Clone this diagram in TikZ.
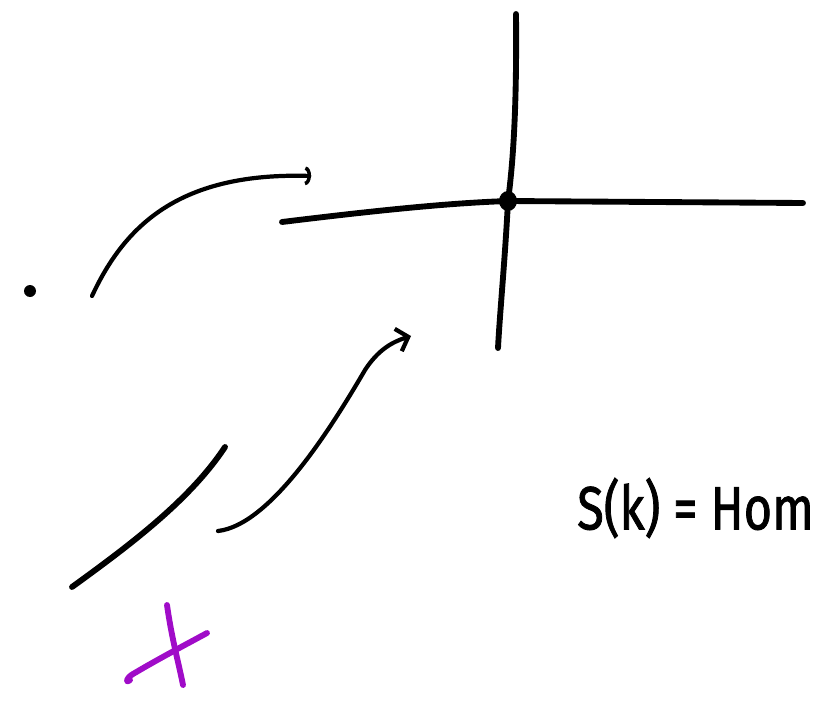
\documentclass[tikz,border=0pt]{standalone}
\usepackage{fontspec}
\setmainfont{Fira Sans}
\newfontfamily\handfont[FakeBold=1.5]{Fira Sans}
\usetikzlibrary{arrows.meta}
\definecolor{penpurple}{RGB}{160,12,200}
\tikzset{
  pen/.style={line width=5pt, line cap=round, line join=round},
  thinpen/.style={line width=3.6pt, line cap=round, line join=round},
  hand/.style={font=\handfont\fontsize{52}{60}\selectfont, inner sep=0pt, anchor=west}
}
\begin{document}
\begin{tikzpicture}[x=0.03cm, y=-0.03cm]
\useasboundingbox (0,0) rectangle (817,706);
% small dot
\fill (30,291) circle (6);
% top arrow
\coordinate (a1s) at (92,296);
\coordinate (a1e) at (311,176);
\draw[thinpen, -{Arc Barb[length=5pt, width=16pt, line width=3pt]}] (a1s) .. controls (125,225) and (180,172) .. (a1e);
% horizontal axis
\coordinate (hL) at (282,222);
\coordinate (o) at (508,201);
\coordinate (hR) at (803,203);
\draw[pen] (hL) .. controls (380,210) and (450,203) .. (o) -- (hR);
% vertical axis
\coordinate (vT) at (516,14);
\coordinate (vB) at (498,348);
\draw[pen] (vT) .. controls (517,120) and (512,170) .. (o) .. controls (505,260) and (500,310) .. (vB);
\fill (o) ellipse (9 and 10);
% lower arrow
\coordinate (a2s) at (218,531);
\coordinate (a2e) at (411,336);
\draw[thinpen, -{Straight Barb[length=9pt, width=20pt, line width=3.6pt]}] (a2s) .. controls (270,525) and (330,430) .. (365,370) .. controls (378,350) and (392,342) .. (a2e);
% slanted line
\coordinate (lA) at (72,587);
\coordinate (lB) at (225,447);
\draw[pen] (lA) .. controls (130,545) and (190,500) .. (lB);
% purple cross
\draw[pen, penpurple] (167,605) .. controls (172,640) and (178,660) .. (183,685);
\draw[pen, penpurple] (130,680) .. controls (125,684) and (126,678) .. (133,674) .. controls (160,658) and (185,645) .. (207,633);
% text
\node[hand] (eq) at (577,508) {\scalebox{0.8}[1]{S(k) = Hom}};
\end{tikzpicture}
\end{document}
